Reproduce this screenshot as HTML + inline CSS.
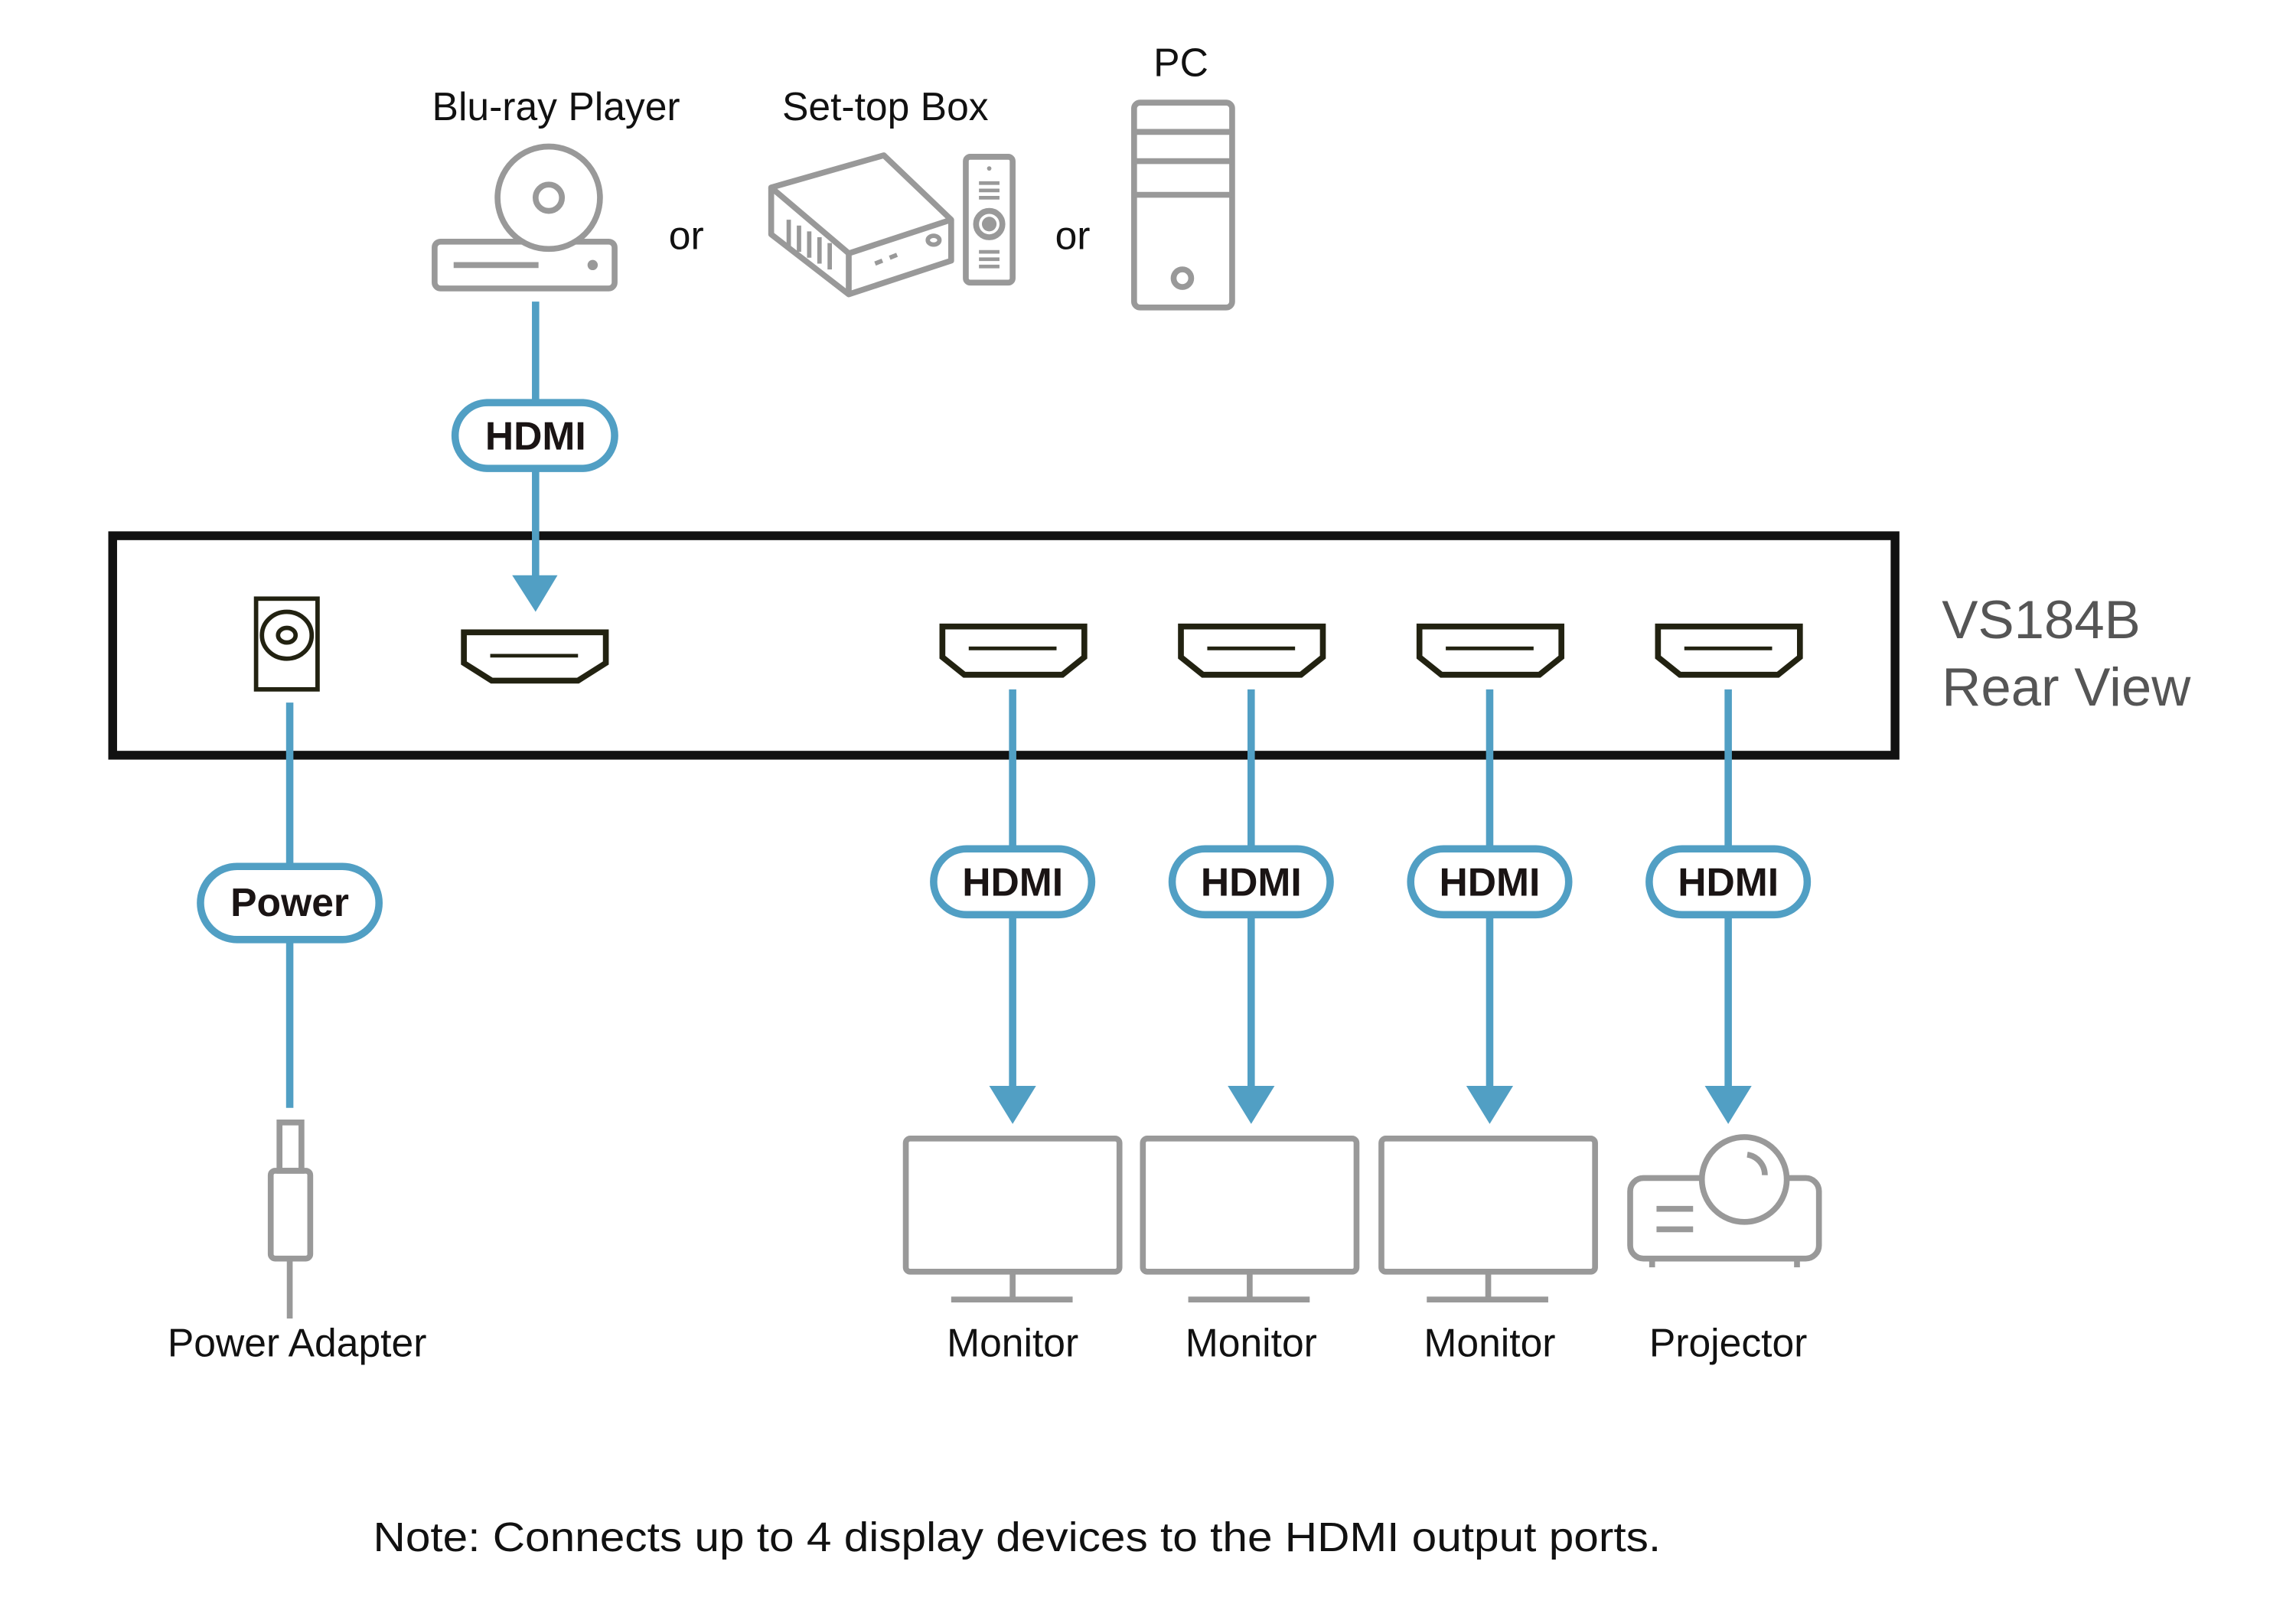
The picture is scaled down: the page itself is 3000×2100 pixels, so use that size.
<!DOCTYPE html>
<html><head><meta charset="utf-8"><style>
html,body{margin:0;padding:0;background:#fff;}
svg{display:block;}
text{font-family:"Liberation Sans",Arial,sans-serif;}
</style></head><body>
<svg width="3000" height="2100" viewBox="0 0 1569 1098" xmlns="http://www.w3.org/2000/svg">
<rect width="1569" height="1098" fill="#fff"/>
<!-- top labels -->
<g font-size="27" fill="#111" text-anchor="middle">
<text x="380" y="82">Blu-ray Player</text>
<text x="605" y="82">Set-top Box</text>
<text x="807" y="52">PC</text>
<text x="469" y="170">or</text>
<text x="733" y="170">or</text>
</g>
<!-- Blu-ray -->
<g fill="none" stroke="#999" stroke-width="4" stroke-linejoin="round">
<rect x="297" y="165" width="123" height="32" rx="4"/>
<circle cx="375" cy="135" r="35" fill="#fff"/>
<circle cx="375" cy="135" r="9"/>
<line x1="310" y1="181" x2="368" y2="181"/>
</g>
<circle cx="405" cy="181" r="3.5" fill="#999"/>
<!-- Set-top box -->
<g fill="none" stroke="#999" stroke-width="4" stroke-linejoin="round">
<path d="M527 128 L604 106 L650 150 L580 173 Z"/>
<path d="M527 128 L527 160 L580 201 L650 178 L650 150"/>
<path d="M580 173 L580 201"/>
<rect x="660" y="107" width="32" height="86" rx="3"/>
<circle cx="676" cy="153" r="9"/>
<path d="M539 150 v18 M546 154 v18 M553 158 v18 M560 162 v18 M567 166 v18" stroke-width="3"/>
<path d="M669 125 h14 M669 130 h14 M669 135 h14 M669 172 h14 M669 177 h14 M669 182 h14" stroke-width="2.5"/>
<ellipse cx="638" cy="164" rx="4" ry="3" stroke-width="3"/>
<path d="M598 180 l5 -2 M608 176 l5 -2" stroke-width="3"/>
</g>
<circle cx="676" cy="153" r="5" fill="#999"/>
<circle cx="676" cy="115" r="1.5" fill="#999"/>
<!-- PC -->
<g fill="none" stroke="#999" stroke-width="4" stroke-linejoin="round">
<rect x="775" y="70" width="67" height="140" rx="4"/>
<line x1="775" y1="90" x2="842" y2="90"/>
<line x1="775" y1="110" x2="842" y2="110"/>
<line x1="775" y1="133" x2="842" y2="133"/>
<circle cx="808" cy="190" r="6"/>
</g>
<!-- main box -->
<rect x="77" y="366" width="1218" height="150" fill="none" stroke="#111" stroke-width="6"/>
<g font-size="37" fill="#555">
<text x="1327" y="436">VS184B</text>
<text x="1327" y="482">Rear View</text>
</g>
<!-- power jack -->
<rect x="175" y="409" width="42" height="62" fill="none" stroke="#221" stroke-width="3"/>
<ellipse cx="196" cy="434" rx="17" ry="16" fill="none" stroke="#221" stroke-width="3"/>
<ellipse cx="196" cy="434" rx="6" ry="5" fill="none" stroke="#221" stroke-width="3"/>
<!-- HDMI ports -->
<g fill="none" stroke="#221" stroke-width="4" stroke-linejoin="miter">
<path d="M317 432 H414 V453 L395 465 H336 L317 453 Z"/>
<line x1="335" y1="448" x2="395" y2="448" stroke-width="2.5"/>
</g>
<g id="port" fill="none" stroke="#221" stroke-width="4">
<path d="M644 428 H741 V449 L726 461 H659 L644 449 Z"/>
<line x1="662" y1="443" x2="722" y2="443" stroke-width="2.5"/>
</g>
<use href="#port" x="163"/>
<use href="#port" x="326"/>
<use href="#port" x="489"/>
<!-- blue connectors -->
<g stroke="#519fc4" stroke-width="5" fill="none">
<line x1="366" y1="206" x2="366" y2="396"/>
<line x1="198" y1="480" x2="198" y2="757"/>
<line x1="692" y1="471" x2="692" y2="745"/>
<line x1="855" y1="471" x2="855" y2="745"/>
<line x1="1018" y1="471" x2="1018" y2="745"/>
<line x1="1181" y1="471" x2="1181" y2="745"/>
</g>
<g fill="#519fc4">
<path d="M350 393 H381 L366 418 Z"/>
<path d="M676 742 H708 L692 768 Z"/>
<path d="M839 742 H871 L855 768 Z"/>
<path d="M1002 742 H1034 L1018 768 Z"/>
<path d="M1165 742 H1197 L1181 768 Z"/>
</g>
<!-- pills -->
<g fill="#fff" stroke="#519fc4" stroke-width="5">
<rect x="311" y="275" width="109" height="45" rx="22.5"/>
<rect x="137" y="592" width="122" height="50" rx="25"/>
<rect x="638" y="580" width="108" height="45" rx="22.5"/>
<rect x="801" y="580" width="108" height="45" rx="22.5"/>
<rect x="964" y="580" width="108" height="45" rx="22.5"/>
<rect x="1127" y="580" width="108" height="45" rx="22.5"/>
</g>
<g font-size="27" font-weight="bold" fill="#1a1414" text-anchor="middle">
<text x="366" y="307">HDMI</text>
<text x="198" y="626">Power</text>
<text x="692" y="612">HDMI</text>
<text x="855" y="612">HDMI</text>
<text x="1018" y="612">HDMI</text>
<text x="1181" y="612">HDMI</text>
</g>
<!-- power plug -->
<g fill="none" stroke="#999" stroke-width="4">
<rect x="191" y="767" width="15" height="33"/>
<rect x="185" y="800" width="27" height="60" rx="3"/>
<line x1="198" y1="860" x2="198" y2="901"/>
</g>
<!-- monitors -->
<g id="mon" fill="none" stroke="#999" stroke-width="4">
<rect x="619" y="778" width="146" height="91" rx="3"/>
<line x1="692" y1="869" x2="692" y2="888"/>
<line x1="650" y1="888" x2="733" y2="888"/>
</g>
<use href="#mon" x="162"/>
<use href="#mon" x="325"/>
<!-- projector -->
<g fill="none" stroke="#999" stroke-width="4">
<rect x="1114" y="805" width="129" height="55" rx="9"/>
<circle cx="1192" cy="806" r="29" fill="#fff"/>
<path d="M1194 789 A14 14 0 0 1 1206 803"/>
<line x1="1132" y1="826" x2="1157" y2="826"/>
<line x1="1132" y1="840" x2="1157" y2="840"/>
<line x1="1129" y1="860" x2="1129" y2="866"/>
<line x1="1228" y1="860" x2="1228" y2="866"/>
</g>
<!-- bottom labels -->
<g font-size="27" fill="#111" text-anchor="middle">
<text x="203" y="927">Power Adapter</text>
<text x="692" y="927">Monitor</text>
<text x="855" y="927">Monitor</text>
<text x="1018" y="927">Monitor</text>
<text x="1181" y="927">Projector</text>
</g>
<text x="255" y="1060" font-size="28" fill="#111" textLength="880" lengthAdjust="spacingAndGlyphs">Note: Connects up to 4 display devices to the HDMI output ports.</text>
</svg>
</body></html>
